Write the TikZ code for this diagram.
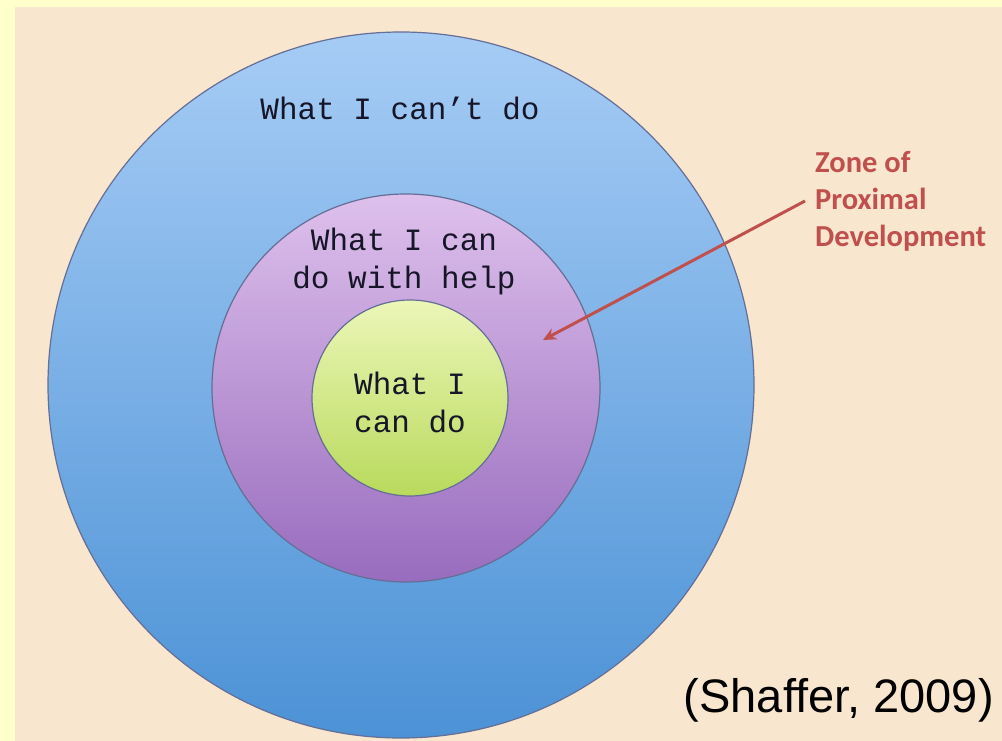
\documentclass[tikz,border=0pt]{standalone}
\usepackage{fontspec}
\usetikzlibrary{arrows.meta}
\newfontfamily\typefont{Liberation Mono}
\newfontfamily\labelfont{Carlito}
\newfontfamily\citefont{Liberation Sans}
\definecolor{paleyellow}{RGB}{255,255,204}
\definecolor{beige}{RGB}{249,230,206}
\definecolor{ringline}{RGB}{100,110,150}
\definecolor{inktext}{RGB}{22,22,40}
\definecolor{zpdred}{RGB}{192,80,77}
\newcommand{\px}{1pt}

\begin{document}
\begin{tikzpicture}[x=\px, y=-\px,
    ring/.style={circle, draw=ringline, line width=1.2pt, inner sep=0pt},
    say/.style={font=\typefont\fontsize{31}{38}\selectfont, align=center, text=inktext}]
    % Background
    \fill[paleyellow] (0,0) rectangle (1002,741);
    \fill[beige] (15,7) rectangle (1002,741);
    \useasboundingbox (0,0) rectangle (1002,741);

    % Rings
    \node[ring, minimum size=706*\px, top color={rgb,255:red,166;green,204;blue,245}, bottom color={rgb,255:red,76;green,146;blue,214}] (ring-cant) at (401,385) {};
    \node[ring, minimum size=388*\px, top color={rgb,255:red,222;green,192;blue,236}, bottom color={rgb,255:red,152;green,108;blue,190}] (ring-help) at (406,388) {};
    \node[ring, minimum size=196*\px, top color={rgb,255:red,236;green,246;blue,184}, bottom color={rgb,255:red,184;green,218;blue,92}] (ring-can) at (410,398) {};

    % Texts
    \node[say] (text-cant) at (400,108) {What I can’t do};
    \node[say] (text-help) at (404,261) {What I can\\do with help};
    \node[say] (text-can) at (410,402) {What I\\can do};

    % Zone label
    \node[font=\labelfont\bfseries\fontsize{30.5}{37}\selectfont, text=zpdred, align=left, anchor=west, inner sep=10pt] (zpd) at (805,201) {Zone of\\Proximal\\Development};
    \coordinate (zpd-tip) at (543,340);
    \draw[zpdred, line width=3pt, -{Stealth[length=13pt, width=12pt]}] (zpd.west) -- (zpd-tip);

    % Source
    \node[font=\citefont\fontsize{47}{50}\selectfont, anchor=east, inner sep=0pt] (cite) at (994,700) {(Shaffer, 2009)};
\end{tikzpicture}
\end{document}
